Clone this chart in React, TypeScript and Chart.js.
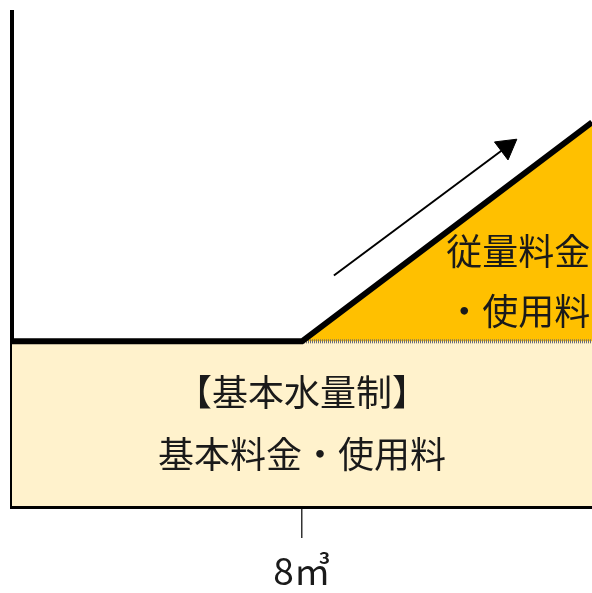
import React, { useEffect, useRef } from "react";
import { Chart, registerables } from "chart.js";

Chart.register(...registerables);

// usage (m³) and charge level (relative units)
const usage = [0, 8, 16];
const charge = [1, 1, 2.33];
const basicLevel = 1;
const tickValues = [8];
const tickLabels = ["8㎥"];
// arrow along the metered section
const arrowX = [8.88, 13.64];
const arrowY = [1.4, 2.18];

const FONT = "'Noto Sans CJK JP', 'Noto Sans', sans-serif";

const textPlugin = {
  id: "areaText",
  afterDatasetsDraw(chart: any) {
    const { ctx, scales } = chart;
    const x = scales.x;
    const y = scales.y;
    ctx.save();
    ctx.fillStyle = "#1a1a1a";
    ctx.font = `36px ${FONT}`;
    ctx.textBaseline = "middle";
    ctx.textAlign = "center";
    ctx.fillText("【基本水量制】", x.getPixelForValue(8), y.getPixelForValue(0.69));
    ctx.fillText("基本料金・使用料", x.getPixelForValue(8), y.getPixelForValue(0.315));
    ctx.textAlign = "right";
    ctx.fillText("従量料金", x.getPixelForValue(15.95), y.getPixelForValue(1.545));
    ctx.fillText("・使用料", x.getPixelForValue(15.95), y.getPixelForValue(1.18));
    ctx.restore();
  },
};

const App: React.FC = () => {
  const chartRef = useRef<HTMLCanvasElement>(null);

  useEffect(() => {
    if (!chartRef.current) return;
    const pts = (xs: number[], ys: number[]) => xs.map((v, i) => ({ x: v, y: ys[i] }));

    const myChart = new Chart(chartRef.current, {
      type: "line",
      data: {
        datasets: [
          {
            label: "arrow",
            data: pts(arrowX, arrowY),
            borderColor: "#000",
            borderWidth: 2,
            pointRadius: [0, 13],
            pointStyle: "triangle",
            pointRotation: 53,
            pointBackgroundColor: "#000",
            pointBorderColor: "#000",
            pointBorderWidth: 1,
            fill: false,
          },
          {
            label: "charge",
            data: pts(usage, charge),
            borderColor: "#000",
            borderWidth: 6,
            pointRadius: 0,
            fill: false,
          },
          {
            label: "basic-dotted",
            data: pts(usage.slice(1), [basicLevel, basicLevel]),
            borderColor: "#6f6f6f",
            borderWidth: 4,
            borderDash: [1, 1],
            pointRadius: 0,
            fill: false,
          },
          {
            label: "metered",
            data: pts(usage.slice(1), charge.slice(1)),
            borderWidth: 0,
            borderColor: "rgba(0,0,0,0)",
            backgroundColor: "#FFC000",
            pointRadius: 0,
            fill: { value: basicLevel },
          },
          {
            label: "basic",
            data: pts([usage[0], usage[usage.length - 1]], [basicLevel, basicLevel]),
            borderWidth: 0,
            borderColor: "rgba(0,0,0,0)",
            backgroundColor: "#FFF2CC",
            pointRadius: 0,
            fill: "origin",
          },
        ],
      },
      options: {
        animation: false,
        responsive: true,
        maintainAspectRatio: false,
        layout: { autoPadding: false, padding: { left: 12, top: 12, right: 0, bottom: -10 } },
        plugins: { legend: { display: false }, tooltip: { enabled: false } },
        scales: {
          x: {
            type: "linear",
            min: 0,
            max: 16,
            afterBuildTicks: (axis: any) => {
              axis.ticks = tickValues.map((v) => ({ value: v }));
            },
            ticks: {
              padding: 14,
              color: "#1a1a1a",
              font: { family: FONT, size: 37, lineHeight: 1 },
              callback: (v: any) => tickLabels[tickValues.indexOf(Number(v))] ?? "",
            },
            grid: {
              display: true,
              drawOnChartArea: false,
              drawTicks: true,
              tickLength: 32,
              color: "#333",
              lineWidth: 1.5,
            },
            border: { display: true, color: "#000", width: 5 },
          },
          y: {
            type: "linear",
            min: 0,
            max: 3,
            ticks: { display: false },
            grid: { display: false, drawTicks: false },
            border: { display: true, color: "#000", width: 4 },
          },
        },
      },
      plugins: [textPlugin],
    });

    return () => {
      myChart.destroy();
    };
  }, []);

  return (
    <div style={{ position: "absolute", left: 0, top: 0, width: 592, height: 593 }}>
      <canvas ref={chartRef} />
    </div>
  );
};

export default App;
